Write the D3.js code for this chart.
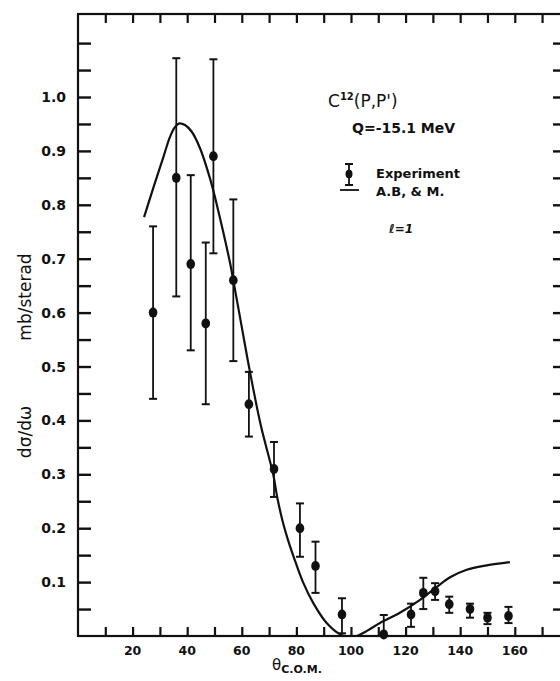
<!DOCTYPE html>
<html>
<head>
<meta charset="utf-8">
<script src="https://cdn.jsdelivr.net/npm/d3@7"></script>
<style>
  body { margin: 0; background: #fff; }
  svg { display: block; }
  text { font-family: "DejaVu Sans", "Liberation Sans", sans-serif; fill: #111; }
</style>
</head>
<body>
<div class="chart"></div>
<script>
// experimental points: angle (C.O.M.), cross section, error bar ends
const expTheta = [27.5, 36, 41.3, 46.8, 49.6, 56.9, 62.6, 71.8, 81.3, 87.0, 96.7, 112, 122, 126.5, 130.8, 136, 143.6, 150, 157.7];
const expValue = [0.60, 0.85, 0.69, 0.58, 0.89, 0.66, 0.43, 0.31, 0.20, 0.13, 0.04, 0.003, 0.04, 0.08, 0.083, 0.059, 0.05, 0.034, 0.037];
const expLow   = [0.44, 0.63, 0.53, 0.43, 0.71, 0.51, 0.37, 0.258, 0.147, 0.08, 0.005, 0.0, 0.017, 0.05, 0.067, 0.043, 0.034, 0.022, 0.024];
const expHigh  = [0.76, 1.072, 0.855, 0.73, 1.07, 0.81, 0.49, 0.36, 0.246, 0.175, 0.07, 0.039, 0.06, 0.108, 0.098, 0.073, 0.06, 0.043, 0.054];

// theory curve (A.B, & M., l = 1)
const curveTheta = [24.2, 28, 31.3, 33.7, 35.5, 37.1, 39.2, 41.6, 44.7, 48.4, 51, 55.7, 57, 60, 63, 67, 71.5, 73, 75, 77, 79, 82.5, 86.2, 91.1, 96, 98, 102, 106, 110.6, 117.9, 125.3, 131.4, 136.3, 142.4, 149.7, 158.2];
const curveValue = [0.777, 0.838, 0.889, 0.926, 0.944, 0.951, 0.948, 0.936, 0.905, 0.848, 0.797, 0.692, 0.657, 0.573, 0.49, 0.39, 0.30, 0.257, 0.212, 0.177, 0.147, 0.099, 0.061, 0.024, 0.003, 0, 0, 0.01, 0.024, 0.043, 0.067, 0.091, 0.109, 0.123, 0.131, 0.137];

const xTickLabels = [20, 40, 60, 80, 100, 120, 140, 160];
const yTickLabels = [0.1, 0.2, 0.3, 0.4, 0.5, 0.6, 0.7, 0.8, 0.9, 1.0];

const width = 560, height = 681;
const margin = { left: 78, right: 562, top: 14, bottom: 636 };

const svg = d3.select(".chart").append("svg")
    .attr("width", width)
    .attr("height", height);

const x = d3.scaleLinear().domain([0, 177.3]).range([margin.left, margin.right]);
const y = d3.scaleLinear().domain([0, 1.154]).range([margin.bottom, margin.top]);

const xMinor = d3.range(10, 176, 10);
const yMinor = d3.range(0.05, 1.15, 0.05);

// frame
svg.append("rect")
    .attr("x", margin.left).attr("y", margin.top)
    .attr("width", margin.right - margin.left).attr("height", margin.bottom - margin.top)
    .attr("fill", "none").attr("stroke", "#111").attr("stroke-width", 2.2);

// bottom axis, ticks pointing in
const xAxis = svg.append("g")
    .attr("transform", `translate(0,${margin.bottom})`)
    .call(d3.axisBottom(x).tickValues(xMinor).tickSizeInner(-9).tickSizeOuter(0).tickFormat(""));
xAxis.select(".domain").remove();
xAxis.selectAll("line").attr("stroke", "#111").attr("stroke-width", 2.2);

svg.append("g").selectAll("text")
    .data(xTickLabels)
    .enter().append("text")
    .attr("x", d => x(d))
    .attr("y", margin.bottom + 19)
    .attr("text-anchor", "middle")
    .attr("font-size", 12.5)
    .attr("font-weight", "bold")
    .text(d => d);

// top ticks
const xTop = svg.append("g")
    .attr("transform", `translate(0,${margin.top})`)
    .call(d3.axisTop(x).tickValues(xMinor).tickSizeInner(-9).tickSizeOuter(0).tickFormat(""));
xTop.select(".domain").remove();
xTop.selectAll("line").attr("stroke", "#111").attr("stroke-width", 2.2);

// left axis
const yAxis = svg.append("g")
    .attr("transform", `translate(${margin.left},0)`)
    .call(d3.axisLeft(y).tickValues(yMinor).tickSizeInner(-13).tickSizeOuter(0).tickFormat(""));
yAxis.select(".domain").remove();
yAxis.selectAll("line").attr("stroke", "#111").attr("stroke-width", 2.4);

svg.append("g").selectAll("text")
    .data(yTickLabels)
    .enter().append("text")
    .attr("x", margin.left - 12)
    .attr("y", d => y(d) + 5)
    .attr("text-anchor", "end")
    .attr("font-size", 14)
    .attr("font-weight", "bold")
    .text(d => d3.format(".1f")(d));

// right ticks
const yRight = svg.append("g")
    .attr("transform", `translate(${margin.right},0)`)
    .call(d3.axisRight(y).tickValues(yMinor).tickSizeInner(-9).tickSizeOuter(0).tickFormat(""));
yRight.select(".domain").remove();
yRight.selectAll("line").attr("stroke", "#111").attr("stroke-width", 2.4);

// axis titles
svg.append("text")
    .attr("transform", "translate(31,297) rotate(-90)")
    .attr("text-anchor", "middle")
    .attr("font-size", 17)
    .text("mb/sterad");

svg.append("text")
    .attr("transform", "translate(31,432) rotate(-90)")
    .attr("text-anchor", "middle")
    .attr("font-size", 17)
    .text("dσ/dω");

const xt = svg.append("text")
    .attr("x", 272)
    .attr("y", 670)
    .attr("font-size", 15);
xt.append("tspan").text("θ");
xt.append("tspan").attr("font-size", 11).attr("font-weight", "bold").attr("dy", 3).text("C.O.M.");

// theory curve (kept above the axis)
const line = d3.line()
    .x((d, i) => x(curveTheta[i]))
    .y(d => y(d))
    .curve(d3.curveCatmullRom.alpha(0.5));

svg.append("clipPath").attr("id", "plot-clip")
    .append("rect")
    .attr("x", margin.left).attr("y", margin.top)
    .attr("width", margin.right - margin.left).attr("height", margin.bottom - margin.top);

svg.append("path")
    .datum(curveValue)
    .attr("d", line)
    .attr("clip-path", "url(#plot-clip)")
    .attr("fill", "none")
    .attr("stroke", "#111")
    .attr("stroke-width", 2.2);

// error bars
const points = expTheta.map((t, i) => ({ t: t, v: expValue[i], lo: expLow[i], hi: expHigh[i] }));

const bars = svg.append("g").selectAll("g")
    .data(points)
    .enter().append("g");

bars.append("line")
    .attr("x1", d => x(d.t)).attr("x2", d => x(d.t))
    .attr("y1", d => y(d.lo))
    .attr("y2", d => y(d.hi))
    .attr("stroke", "#111").attr("stroke-width", 1.8);

bars.append("line")
    .attr("x1", d => x(d.t) - 4).attr("x2", d => x(d.t) + 4)
    .attr("y1", d => y(d.hi)).attr("y2", d => y(d.hi))
    .attr("stroke", "#111").attr("stroke-width", 2);

bars.filter(d => d.lo > 0).append("line")
    .attr("x1", d => x(d.t) - 4).attr("x2", d => x(d.t) + 4)
    .attr("y1", d => y(d.lo)).attr("y2", d => y(d.lo))
    .attr("stroke", "#111").attr("stroke-width", 2);

bars.append("ellipse")
    .attr("cx", d => x(d.t))
    .attr("cy", d => y(d.v))
    .attr("rx", 4.3).attr("ry", 5)
    .attr("fill", "#111");

// annotation and legend
const t1 = svg.append("text").attr("x", 328).attr("y", 107).attr("font-size", 17);
t1.append("tspan").text("C");
t1.append("tspan").attr("font-size", 10).attr("font-weight", "bold").attr("dy", -7).text("12");
t1.append("tspan").attr("dy", 7).text("(P,P')");

svg.append("text").attr("x", 352).attr("y", 133)
    .attr("font-size", 14).attr("font-weight", "bold").text("Q=-15.1  MeV");

const lg = svg.append("g");
lg.append("line").attr("x1", 349).attr("x2", 349).attr("y1", 164).attr("y2", 185)
    .attr("stroke", "#111").attr("stroke-width", 1.8);
lg.append("line").attr("x1", 345).attr("x2", 353).attr("y1", 164).attr("y2", 164)
    .attr("stroke", "#111").attr("stroke-width", 2);
lg.append("line").attr("x1", 345).attr("x2", 353).attr("y1", 185).attr("y2", 185)
    .attr("stroke", "#111").attr("stroke-width", 2);
lg.append("ellipse").attr("cx", 349).attr("cy", 174).attr("rx", 3.5).attr("ry", 4.2).attr("fill", "#111");
lg.append("text").attr("x", 376).attr("y", 178).attr("font-size", 13).attr("font-weight", "bold").text("Experiment");

lg.append("line").attr("x1", 340).attr("x2", 359).attr("y1", 190).attr("y2", 190)
    .attr("stroke", "#111").attr("stroke-width", 1.8);
lg.append("text").attr("x", 376).attr("y", 196).attr("font-size", 13).attr("font-weight", "bold").text("A.B, & M.");
lg.append("text").attr("x", 389).attr("y", 233).attr("font-size", 12).attr("font-weight", "bold")
    .attr("font-style", "italic").text("ℓ=1");
</script>
</body>
</html>
